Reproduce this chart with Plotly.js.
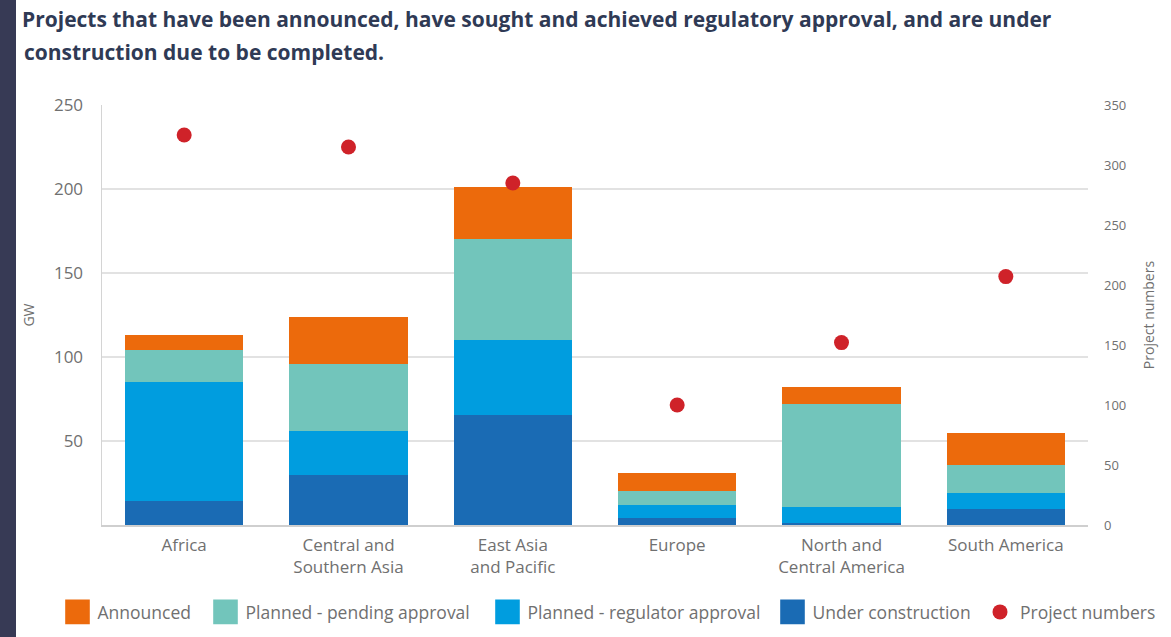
<!DOCTYPE html>
<html>
<head>
<meta charset="utf-8">
<script src="https://cdn.plot.ly/plotly-3.0.1.min.js"></script>
<style>
html,body{margin:0;padding:0;background:#fff;}
#wrap{position:relative;width:1171px;height:637px;overflow:hidden;}
#strip{position:absolute;left:0;top:0;width:16px;height:637px;background:#373a55;z-index:2;}
#chart{position:absolute;left:0;top:0;width:1171px;height:637px;}
/* larger square swatches for the bar series, as in the reference (keeps Plotly's 20px offset) */
#chart .legendpoints path:not(.scatterpts){transform-box:fill-box;transform-origin:center;transform:translate(20px,0) scale(2.05);}
</style>
</head>
<body>
<div id="wrap"><div id="strip"></div><div id="chart"></div></div>
<script>
const categories = ["Africa", "Central and<br>Southern Asia", "East Asia<br>and Pacific", "Europe", "North and<br>Central America", "South America"];
const underConstruction = [14, 30, 65.5, 4, 1, 9.5];
const regulatorApproval = [71, 26, 44.5, 8, 10, 9.5];
const pendingApproval = [19, 40, 60, 8, 61, 16.5];
const announced = [9, 28, 31, 11, 10, 19];
const projectNumbers = [325, 315, 285, 100, 152, 207];
const leftTicks = [50, 100, 150, 200, 250];
const rightTicks = [0, 50, 100, 150, 200, 250, 300, 350];

const FONT = "Open Sans, sans-serif";
const GREY = "#707070";

const traces = [
  {type: "bar", name: "Under construction", x: categories, y: underConstruction,
   marker: {color: "#1a6bb4"}, legendrank: 4, legendwidth: 162.5},
  {type: "bar", name: "Planned - regulator approval", x: categories, y: regulatorApproval,
   marker: {color: "#009ddf"}, legendrank: 3, legendwidth: 240},
  {type: "bar", name: "Planned - pending approval", x: categories, y: pendingApproval,
   marker: {color: "#72c5bb"}, legendrank: 2, legendwidth: 237},
  {type: "bar", name: "Announced", x: categories, y: announced,
   marker: {color: "#ec6a0c"}, legendrank: 1, legendwidth: 103},
  {type: "scatter", mode: "markers", name: "Project numbers", x: categories, y: projectNumbers, yaxis: "y2",
   marker: {color: "#cf2229", size: 15}, legendrank: 5, legendwidth: 150}
];

// plot area: x 102..1088, y 105..525 ; the right margin is kept small so the one-row legend fits
const ML = 102, MR = 20, PW = 1171 - ML - MR, PH = 420;

const layout = {
  width: 1171, height: 637,
  paper_bgcolor: "#ffffff", plot_bgcolor: "#ffffff",
  margin: {l: ML, r: MR, t: 105, b: 112, autoexpand: false},
  barmode: "stack", bargap: 0.28,
  font: {family: FONT, color: GREY},
  title: {
    text: "<b>Projects that have been announced, have sought and achieved regulatory approval, and are under</b>",
    x: 22 / 1171, xanchor: "left", xref: "container",
    y: 1 - 20 / 637, yanchor: "middle", yref: "container",
    font: {family: FONT, size: 21, color: "#2f3a55"}
  },
  annotations: [{
    text: "<b>construction due to be completed.</b>",
    xref: "paper", yref: "paper",
    x: (22 - ML) / PW, y: 1 + (105 - 52) / PH,
    xanchor: "left", yanchor: "middle", showarrow: false,
    font: {family: FONT, size: 21, color: "#2f3a55"}
  }],
  xaxis: {
    type: "category", domain: [0, 986 / PW],
    showline: true, linecolor: "#cfcfcf", linewidth: 1.5,
    ticks: "", tickfont: {size: 17, color: GREY}, ticklabelstandoff: 4
  },
  yaxis: {
    range: [0, 250], tickvals: leftTicks,
    showgrid: true, gridcolor: "#e2e2e2", gridwidth: 1.5,
    showline: true, linecolor: "#d4d4d4", linewidth: 1.5, zeroline: false,
    ticks: "", ticklabelstandoff: 14,
    tickfont: {size: 17, color: GREY},
    title: {text: "GW", font: {size: 14, color: GREY}, standoff: 16}
  },
  yaxis2: {
    overlaying: "y", side: "right", anchor: "x", range: [0, 350], tickvals: rightTicks,
    showgrid: false, zeroline: false, showline: false, ticks: "",
    ticklabelstandoff: 15,
    tickfont: {size: 13, color: GREY},
    title: {text: "Project numbers", font: {size: 14, color: GREY}, standoff: 18}
  },
  legend: {
    orientation: "h", traceorder: "normal", entrywidthmode: "pixels",
    xref: "paper", yref: "paper",
    x: (57.5 - ML) / PW, xanchor: "left", y: (525 - 612) / PH, yanchor: "middle",
    font: {size: 17.5, color: GREY}
  },
  showlegend: true
};

Plotly.newPlot("chart", traces, layout, {displayModeBar: false, staticPlot: true});
</script>
</body>
</html>
